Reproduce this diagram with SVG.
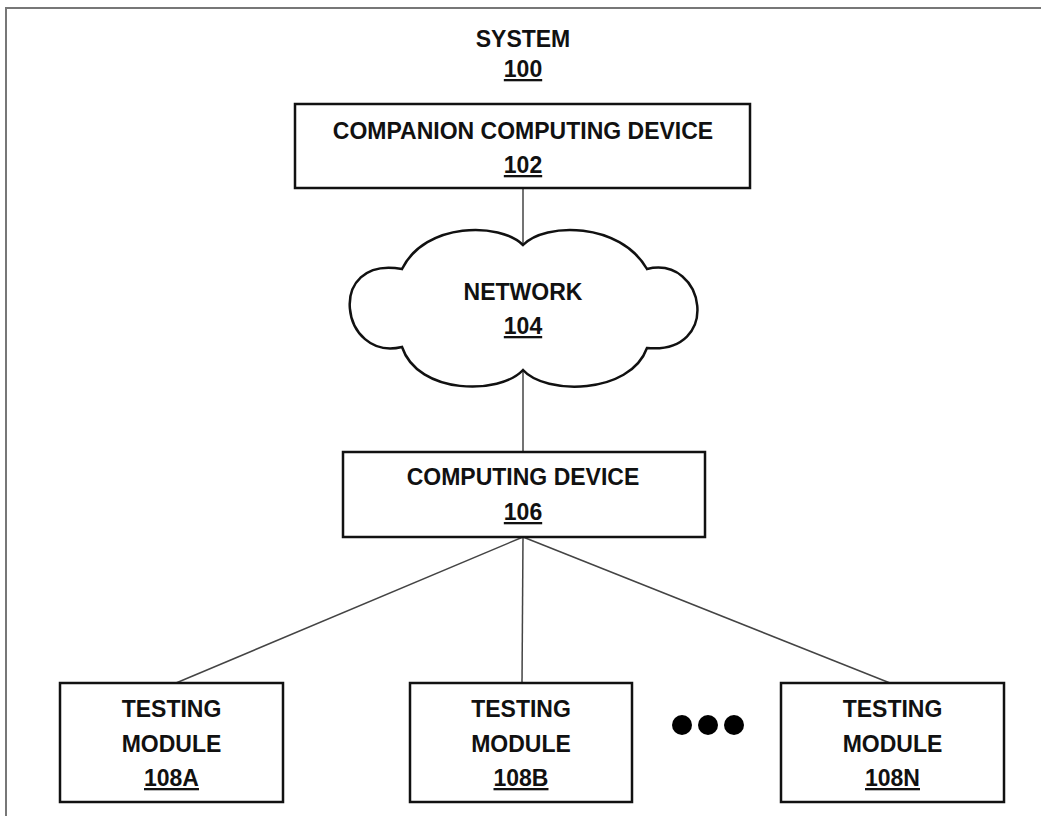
<svg xmlns="http://www.w3.org/2000/svg" width="1041" height="816" viewBox="0 0 1041 816">
  <style>
    .lbl { font-family: "Liberation Sans", Arial, sans-serif; font-weight: bold; font-size: 23px; fill: #111; text-anchor: middle; }
    .ref { text-decoration: underline; }
    .box { fill: #fff; stroke: #111; stroke-width: 2.5; }
    .wire { stroke: #444; stroke-width: 1.5; fill: none; }
    .frame { stroke: #777; stroke-width: 2; fill: none; }
  </style>

  <rect width="1041" height="816" fill="#fff"/>

  <!-- page frame: top and left edges -->
  <path class="frame" d="M6,816 V8 H1041"/>

  <!-- system title -->
  <g id="system">
    <text class="lbl" x="523" y="47">SYSTEM</text>
    <text class="lbl ref" x="523" y="77">100</text>
  </g>

  <!-- connectors -->
  <g id="connectors">
    <line class="wire" x1="523" y1="189" x2="523" y2="245"/>
    <line class="wire" x1="523" y1="370" x2="523" y2="452"/>
    <line class="wire" x1="523" y1="537" x2="176" y2="683"/>
    <line class="wire" x1="523" y1="537" x2="522" y2="683"/>
    <line class="wire" x1="523" y1="537" x2="890" y2="683"/>
  </g>

  <g id="companion-102">
    <rect class="box" x="295" y="104" width="455" height="84"/>
    <text class="lbl" x="523" y="139">COMPANION COMPUTING DEVICE</text>
    <text class="lbl ref" x="523" y="173">102</text>
  </g>

  <g id="network-104">
    <path class="box" d="M523,245 C545,222 620,222 647,269 C706,255 722,355 647,348 C630,395 545,395 523,370 C500,395 418,395 402,347 C340,362 325,255 402,269 C425,222 500,222 523,245 Z"/>
    <text class="lbl" x="523" y="300">NETWORK</text>
    <text class="lbl ref" x="523" y="334">104</text>
  </g>

  <g id="computing-106">
    <rect class="box" x="343" y="452" width="362" height="85"/>
    <text class="lbl" x="523" y="485">COMPUTING DEVICE</text>
    <text class="lbl ref" x="523" y="520">106</text>
  </g>

  <g id="testing-108a">
    <rect class="box" x="60" y="683" width="223" height="119"/>
    <text class="lbl" x="171.5" y="717">TESTING</text>
    <text class="lbl" x="171.5" y="752">MODULE</text>
    <text class="lbl ref" x="171.5" y="786">108A</text>
  </g>

  <g id="testing-108b">
    <rect class="box" x="410" y="683" width="222" height="119"/>
    <text class="lbl" x="521" y="717">TESTING</text>
    <text class="lbl" x="521" y="752">MODULE</text>
    <text class="lbl ref" x="521" y="786">108B</text>
  </g>

  <g id="ellipsis">
    <circle cx="682" cy="725" r="10" fill="#000"/>
    <circle cx="708" cy="725" r="10" fill="#000"/>
    <circle cx="734" cy="725" r="10" fill="#000"/>
  </g>

  <g id="testing-108n">
    <rect class="box" x="781" y="683" width="223" height="119"/>
    <text class="lbl" x="892.5" y="717">TESTING</text>
    <text class="lbl" x="892.5" y="752">MODULE</text>
    <text class="lbl ref" x="892.5" y="786">108N</text>
  </g>
</svg>
